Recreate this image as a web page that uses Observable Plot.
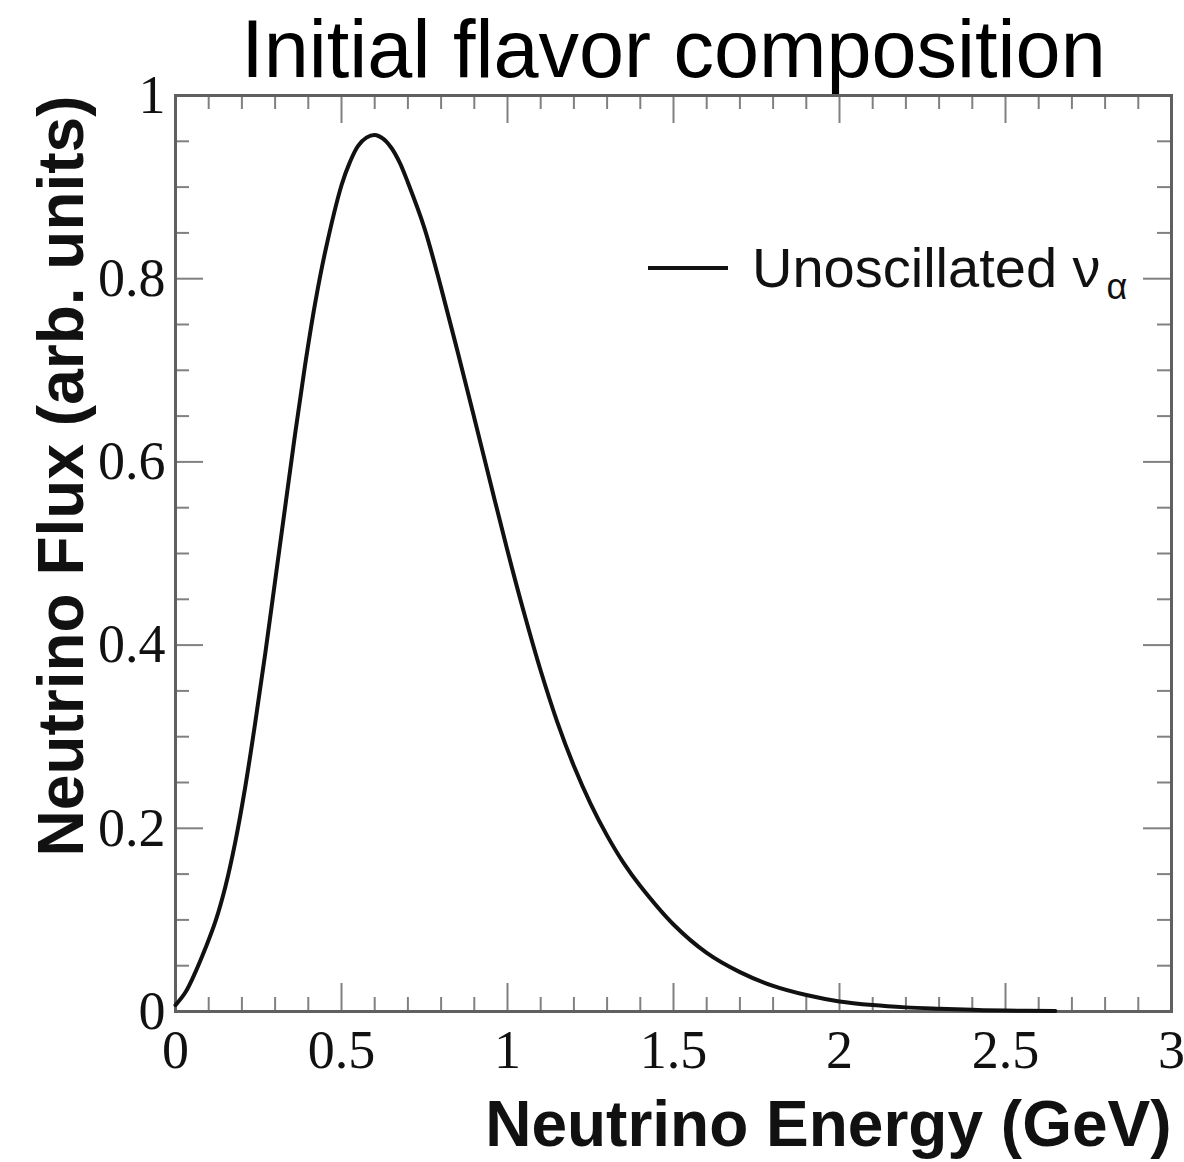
<!DOCTYPE html>
<html><head><meta charset="utf-8">
<script src="https://cdn.jsdelivr.net/npm/d3@7"></script>
<script src="https://cdn.jsdelivr.net/npm/@observablehq/plot@0.6"></script>
<style>body{margin:0;background:#fff}</style>
</head><body><div id="chart"></div>
<script>
const titleText = "Initial flavor composition";
const xTitle = "Neutrino Energy (GeV)";
const yTitle = "Neutrino Flux (arb. units)";
const legendLabel = "Unoscillated ν";
const legendSub = "α";

const energy = [0,0.03,0.06,0.09,0.12,0.15,0.18,0.21,0.24,0.27,0.30,0.33,0.36,0.39,0.42,0.45,0.50,0.525,0.55,0.575,0.60,0.625,0.65,0.675,0.70,0.75,0.80,0.85,0.90,0.95,1.00,1.05,1.10,1.15,1.20,1.25,1.30,1.35,1.40,1.50,1.60,1.70,1.80,1.90,2.00,2.10,2.20,2.30,2.40,2.50,2.65];
const flux = [0.007,0.021,0.043,0.069,0.098,0.136,0.185,0.245,0.315,0.39,0.47,0.55,0.63,0.705,0.772,0.828,0.902,0.927,0.945,0.954,0.957,0.953,0.943,0.927,0.905,0.855,0.79,0.72,0.648,0.575,0.503,0.435,0.372,0.316,0.268,0.227,0.192,0.162,0.137,0.095,0.064,0.043,0.028,0.018,0.011,0.007,0.0045,0.003,0.0018,0.001,0.0005];

const xMajor = [0,0.5,1,1.5,2,2.5,3];
const xTickLabels = ["0","0.5","1","1.5","2","2.5","3"];
const yMajor = [0,0.2,0.4,0.6,0.8,1];
const yTickLabels = ["0","0.2","0.4","0.6","0.8","1"];
const xMinor = d3.range(1,30).map(i=>i/10).filter(v=>Math.abs(v*2-Math.round(v*2))>1e-6);
const yMinor = d3.range(1,20).map(i=>i/20).filter(v=>Math.abs(v*5-Math.round(v*5))>1e-6);

const data = energy.map((e,i)=>({e, f: flux[i]}));

const W=1184, H=1162, mL=175, mR=13, mT=95, mB=151;
const pw = W-mL-mR, ph = H-mT-mB;
const majLen=28, minLen=14;
const tickColor="#808080";
const serif = "Liberation Serif, Times New Roman, serif";
const sans = "Liberation Sans, Arial, Helvetica, sans-serif";

const svg = Plot.plot({
  width: W, height: H,
  marginLeft: mL, marginRight: mR, marginTop: mT, marginBottom: mB,
  x: {domain:[0,3], label:null},
  y: {domain:[0,1], label:null},
  style: {background:"#fff", color:"#000", overflow:"visible"},
  marks: [
    Plot.tickX(xMinor, {x:d=>d, insetTop: ph-minLen, stroke:tickColor, strokeWidth:2}),
    Plot.tickX(xMinor, {x:d=>d, insetBottom: ph-minLen, stroke:tickColor, strokeWidth:2}),
    Plot.tickX(xMajor, {x:d=>d, insetTop: ph-majLen, stroke:tickColor, strokeWidth:2}),
    Plot.tickX(xMajor, {x:d=>d, insetBottom: ph-majLen, stroke:tickColor, strokeWidth:2}),
    Plot.tickY(yMinor, {y:d=>d, insetRight: pw-minLen, stroke:tickColor, strokeWidth:2}),
    Plot.tickY(yMinor, {y:d=>d, insetLeft: pw-minLen, stroke:tickColor, strokeWidth:2}),
    Plot.tickY(yMajor, {y:d=>d, insetRight: pw-majLen, stroke:tickColor, strokeWidth:2}),
    Plot.tickY(yMajor, {y:d=>d, insetLeft: pw-majLen, stroke:tickColor, strokeWidth:2}),
    Plot.frame({stroke:"#606060", strokeWidth:3}),
    Plot.line(data, {x:"e", y:"f", curve:"catmull-rom", stroke:"#111", strokeWidth:4}),
    Plot.axisX({ticks: xMajor, tickSize:0, tickPadding:18, tickFormat: d=>xTickLabels[xMajor.indexOf(d)], fontSize:54, fontFamily:serif, fill:"#111"}),
    Plot.axisY({ticks: yMajor, tickSize:0, tickPadding:10, tickFormat: d=>yTickLabels[yMajor.indexOf(d)], fontSize:54, fontFamily:serif, fill:"#111"}),
    Plot.text([titleText], {frameAnchor:"top", dy:-19, lineAnchor:"bottom", fontSize:81, fontFamily:sans, fill:"#000"}),
    Plot.text([xTitle], {frameAnchor:"bottom-right", textAnchor:"end", lineAnchor:"bottom", dy:134, fontSize:64, fontWeight:"bold", fontFamily:sans, fill:"#111"}),
    Plot.text([yTitle], {frameAnchor:"top-left", textAnchor:"end", lineAnchor:"bottom", rotate:-90, dx:-93, fontSize:64, fontWeight:"bold", fontFamily:sans, fill:"#111"})
  ]
});

// legend
const lg = d3.select(svg).append("g");
lg.append("line").attr("x1",648).attr("x2",728).attr("y1",268).attr("y2",268)
  .attr("stroke","#111").attr("stroke-width",4);
const t = lg.append("text").attr("x",752).attr("y",287).attr("text-anchor","start")
  .attr("font-family",sans).attr("font-size",56).attr("fill","#111");
t.append("tspan").text(legendLabel);
t.append("tspan").attr("dy",12).attr("dx",6).attr("font-size",36).text(legendSub);

document.getElementById("chart").appendChild(svg);
</script>
</body></html>
